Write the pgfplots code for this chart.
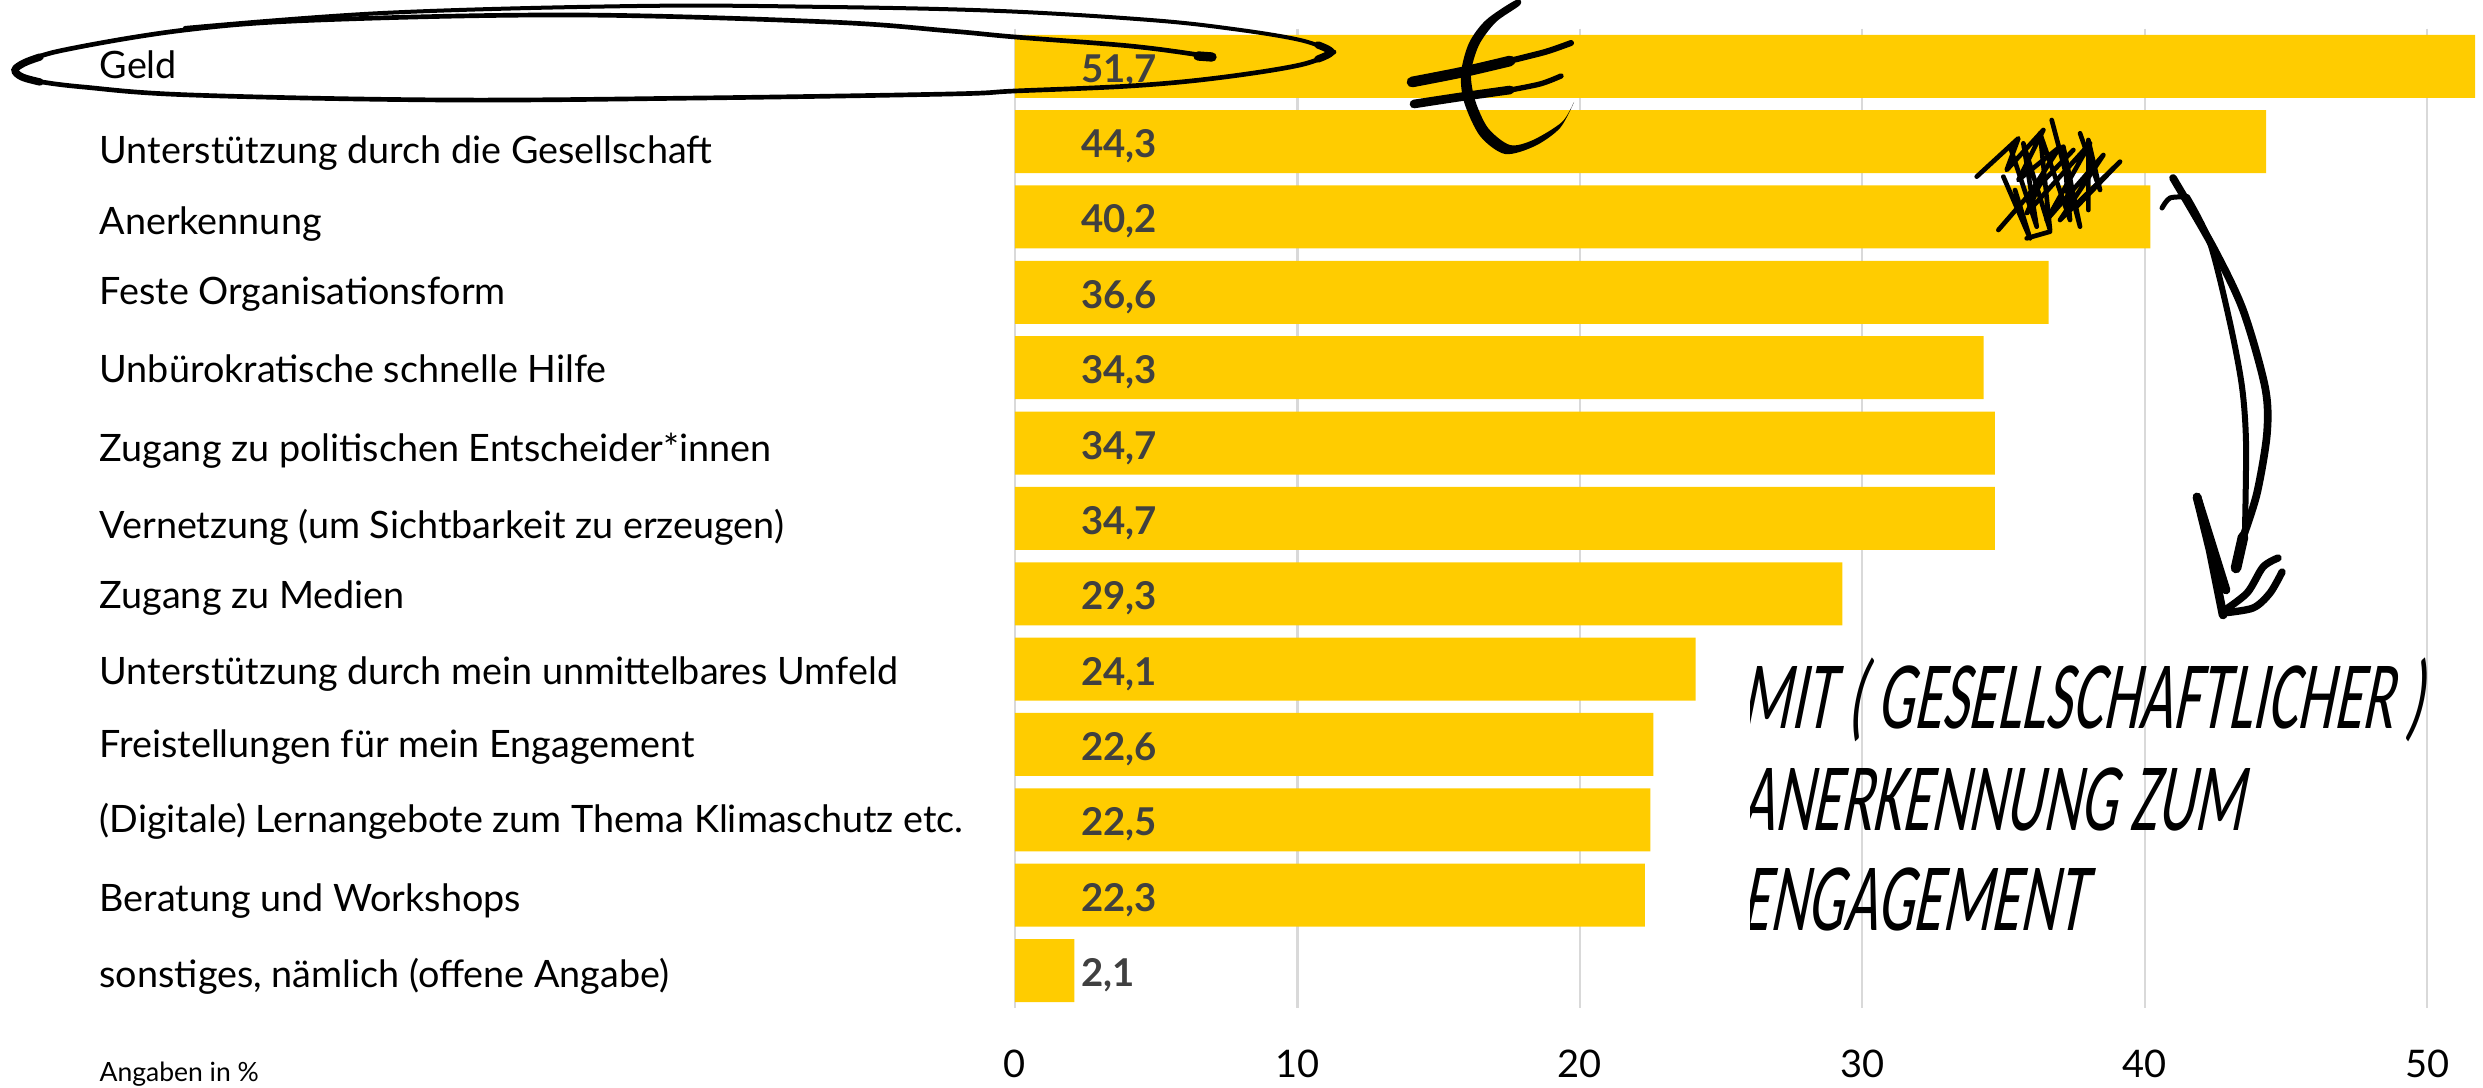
\documentclass[border=0pt]{standalone}
\usepackage{fontspec}
\usepackage{pgfplots}
\usepackage{pgfplotstable}
\pgfplotsset{compat=1.18}
\setmainfont{Lato}
\newfontfamily\hand[FakeSlant=0.2,FakeStretch=0.6]{Carlito}
\definecolor{balken}{HTML}{FFCC00}
\definecolor{raster}{HTML}{D9D9D9}
\definecolor{wert}{HTML}{404040}

\pgfplotstableread{
y  v
0  51.7
1  44.3
2  40.2
3  36.6
4  34.3
5  34.7
6  34.7
7  29.3
8  24.1
9  22.6
10 22.5
11 22.3
12 2.1
}\werte

\begin{document}
\begin{tikzpicture}[x=0.3pt,y=-0.3pt]
\path[use as bounding box] (0,0) rectangle (2483,1088);
\begin{axis}[
    at={(304.5pt,-302.46pt)},
    anchor=south west,
    scale only axis,
    width=440.4pt,
    height=293.88pt,
    xmin=0, xmax=51.98,
    ymin=-0.5, ymax=12.5,
    y dir=reverse,
    xbar,
    bar width=18.9pt,
    axis line style={draw=none},
    major tick length=0pt,
    tick style={draw=none},
    xtick={0,10,...,50},
    xmajorgrids,
    grid style={line width=0.7pt,draw=raster},
    x tick label style={font=\fontsize{11.4}{13}\selectfont,anchor=base,inner sep=0pt,yshift=-20.9pt},
    /pgf/number format/assume math mode=true,
    % Ticks sitzen auf den Grundlinien der Beschriftungen
    ytick={0.16,1.29,2.23,3.16,4.2,5.24,6.26,7.19,8.2,9.17,10.17,11.22,12.23},
    yticklabels={Geld,Unterstützung durch die Gesellschaft,Anerkennung,Feste Organisationsform,Unbürokratische schnelle Hilfe,Zugang zu politischen Entscheider*innen,Vernetzung (um Sichtbarkeit zu erzeugen),Zugang zu Medien,Unterstützung durch mein unmittelbares Umfeld,Freistellungen für mein Engagement,(Digitale) Lernangebote zum Thema Klimaschutz etc.,Beratung und Workshops,{sonstiges, nämlich (offene Angabe)}},
    y tick label style={font=\fontsize{11.32}{13}\selectfont,anchor=base west,inner sep=0pt,xshift=-274.8pt},
]
\addplot[fill=balken,draw=none,
    point meta=x,
    visualization depends on={rawx \as \barval},
    nodes near coords={\pgfmathprintnumber[use comma,fixed,fixed zerofill,precision=1]{\pgfplotspointmeta}},
    nodes near coords style={font=\fontsize{11.5}{13}\selectfont\bfseries,text=wert,anchor=west,inner sep=0pt,xshift={(2.32-\barval)*28.24*0.3pt},yshift=-1.4pt},
] table[x=v,y=y] {\werte};
\end{axis}

\node[anchor=base west,inner sep=0pt,font=\fontsize{7.95}{9}\selectfont] at (99,1081) {Angaben in \%};

% Handschrift, links angeschnitten
\begin{scope}
\clip (1750,600) rectangle (2483,1000);
\node[anchor=base west,inner sep=0pt,font=\hand\fontsize{29}{32}\selectfont] at (1740,728) {MIT ( GESELLSCHAFTLICHER )};
\node[anchor=base west,inner sep=0pt,font=\hand\fontsize{29}{32}\selectfont] at (1740,830) {ANERKENNUNG ZUM};
\node[anchor=base west,inner sep=0pt,font=\hand\fontsize{29}{32}\selectfont] at (1740,930) {ENGAGEMENT};
\end{scope}

% Kringel um "Geld"
\draw[line width=1.2pt,line cap=round] plot[smooth,tension=0.6] coordinates {(185,28) (383,13) (638,6) (829,7) (1000,11) (1150,20) (1233,29) (1300,40) (1334,52)};
\draw[line width=1.4pt,line cap=round] plot[smooth,tension=0.6] coordinates {(1213,57) (1200,55) (1130,46) (1015,37) (950,31) (829,22) (574,15) (319,20) (185,30) (64,50) (24,63) (14,70) (22,77) (36,81) (83,87) (191,95) (446,100) (701,98) (950,94) (1015,91) (1130,86) (1217,78) (1300,65) (1334,52)};
\draw[line width=2.2pt,line cap=round] plot[smooth,tension=0.6] coordinates {(40,57) (24,63) (15,70) (22,77) (40,82)};
\draw[line width=2.8pt,line cap=round] (1198,56) -- (1212,57);
\draw[line width=2.2pt,line cap=round] plot[smooth,tension=0.6] coordinates {(1318,45) (1331,52) (1318,59)};

% Euro-Zeichen
\fill plot[smooth cycle,tension=0.5] coordinates {(1516,0) (1486,20) (1469,43) (1461,73) (1464,102) (1480,136) (1505,154) (1535,146) (1560,128) (1574,102) (1562,122) (1533,140) (1510,145) (1488,128) (1475,100) (1471,73) (1479,45) (1496,22) (1520,5)};
\draw[line width=3.2pt,line cap=round] plot[smooth] coordinates {(1412,82) (1463,72) (1510,61)};
\draw[line width=1.8pt,line cap=round] plot[smooth] coordinates {(1505,62) (1545,52) (1571,43)};
\draw[line width=2.6pt,line cap=round] plot[smooth] coordinates {(1414,104) (1460,97) (1510,90)};
\draw[line width=1.6pt,line cap=round] plot[smooth] coordinates {(1505,91) (1540,84) (1561,76)};

% Gekritzel
\begin{scope}[shift={(1960,110)},x=0.1pt,y=-0.1pt,line width=1.4pt,line cap=round,line join=round]
\draw (50,200) -- (175,85) -- (140,180) -- (250,60) -- (175,210) -- (300,110) -- (200,265) -- (340,120);
\draw (115,360) -- (245,210) -- (200,310) -- (390,100) -- (260,330) -- (430,135) -- (300,330) -- (480,155) -- (350,290);
\draw (275,30) -- (360,350) -- (310,110) -- (330,330) -- (240,70) -- (270,360) -- (190,100) -- (230,350) -- (150,110);
\draw (130,200) -- (210,385) -- (165,240);
\draw (360,70) -- (420,240) -- (385,90) -- (385,300);
\draw (200,385) -- (270,365);
\end{scope}

% Pfeil
\draw[line width=2.3pt,line cap=round] plot[smooth] coordinates {(2173,178) (2213,247) (2243,310) (2265,387) (2267,433) (2257,493) (2243,537)};
\draw[line width=1.8pt,line cap=round] plot[smooth] coordinates {(2187,197) (2210,243) (2230,323) (2242,387) (2246,443) (2245,527)};
\draw[line width=3.2pt,line cap=round] (2243,537) -- (2236,568);
\draw[line width=1.5pt,line cap=round] plot[smooth] coordinates {(2162,208) (2170,198) (2187,197)};
\draw[line width=2.6pt,line cap=round] (2197,497) -- (2210,550) -- (2223,615);
\draw[line width=2.6pt,line cap=round] (2197,497) -- (2226,590);
\draw[line width=2.2pt,line cap=round] plot[smooth] coordinates {(2222,612) (2247,593) (2263,567) (2278,558)};
\draw[line width=2.2pt,line cap=round] plot[smooth] coordinates {(2223,613) (2253,608) (2270,593) (2282,572)};
\end{tikzpicture}
\end{document}
